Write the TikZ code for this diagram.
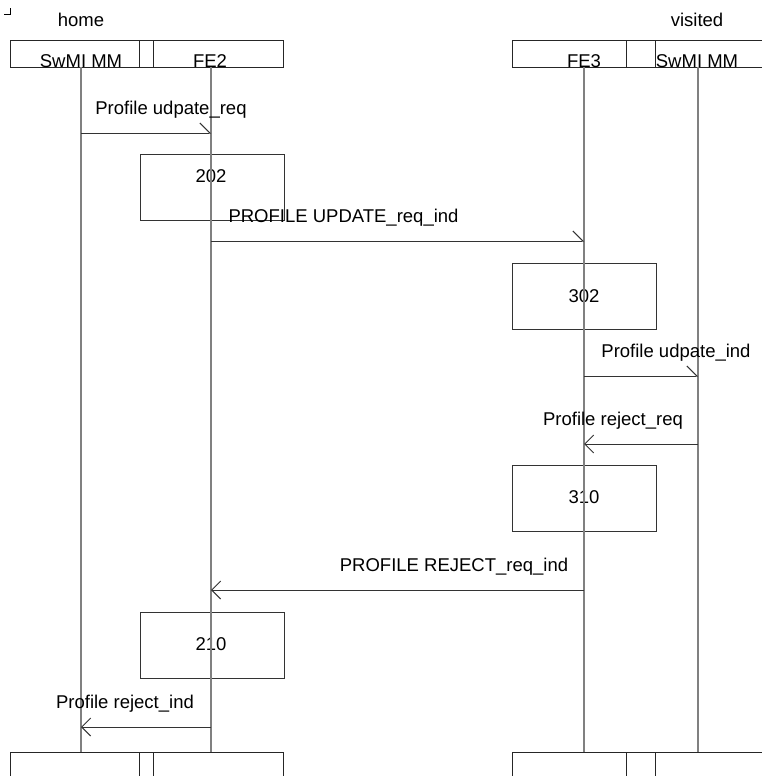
\documentclass[tikz,border=0pt]{standalone}
\usepackage{fontspec}
\setmainfont{Liberation Sans}
\usetikzlibrary{arrows.meta}
\begin{document}
\begin{tikzpicture}[x=1pt,y=1pt,
  txt/.style={font=\fontsize{18.5}{22}\selectfont, inner sep=0pt, anchor=base},
  hdr/.style={draw=black!85, line width=1pt, inner sep=0pt, anchor=north west, minimum height=27pt},
  foot/.style={draw=black!85, line width=1pt, inner sep=0pt, anchor=north west, minimum height=40pt},
  life/.style={draw=black!50, line width=1.3pt},
  msgr/.style={draw=black!80, line width=1pt, -{Straight Barb[left,length=10pt,width=20pt]}},
  msgl/.style={draw=black!80, line width=1pt, -{Straight Barb[length=9pt,width=18pt]}},
  actbox/.style={draw=black!80, line width=1pt, minimum width=144pt, minimum height=66pt, inner sep=0pt, anchor=north west},
]
\useasboundingbox (0,0) rectangle (762,-776);
\clip (0,0) rectangle (762,-776);

% corner mark
\draw[line width=0.8pt] (4,-14) -- (10,-14) -- (10,-8);

% group labels
\node[txt] (home) at (81,-27) {home};
\node[txt] (visited) at (697,-27) {visited};

% header boxes
\node[hdr, minimum width=129pt] (hA) at (10,-40) {};
\node[hdr, minimum width=14pt] (hAB) at (139,-40) {};
\node[hdr, minimum width=130pt] (hB) at (153,-40) {};
\node[hdr, minimum width=114pt] (hC) at (512,-40) {};
\node[hdr, minimum width=29pt] (hCD) at (626,-40) {};
\node[hdr, minimum width=130pt] (hD) at (655,-40) {};

\node[txt] (tA) at (81,-67.5) {SwMI MM};
\node[txt] (tB) at (210,-67.5) {FE2};
\node[txt] (tC) at (584,-67.5) {FE3};
\node[txt] (tD) at (697,-67.5) {SwMI MM};

% footer boxes
\node[foot, minimum width=129pt] (fA) at (10,-752) {};
\node[foot, minimum width=14pt] (fAB) at (139,-752) {};
\node[foot, minimum width=130pt] (fB) at (153,-752) {};
\node[foot, minimum width=114pt] (fC) at (512,-752) {};
\node[foot, minimum width=29pt] (fCD) at (626,-752) {};
\node[foot, minimum width=130pt] (fD) at (655,-752) {};

% lifeline end points
\coordinate (a0) at (81,-67);  \coordinate (a1) at (81,-752);
\coordinate (b0) at (211,-67); \coordinate (b1) at (211,-752);
\coordinate (c0) at (584,-67); \coordinate (c1) at (584,-752);
\coordinate (d0) at (698,-67); \coordinate (d1) at (698,-752);

% action boxes
\node[actbox] (x202) at (140,-154) {};
\node[actbox] (x302) at (512,-263) {};
\node[actbox] (x310) at (512,-465) {};
\node[actbox] (x210) at (140,-612) {};
\node[txt] (n202) at (211,-182) {202};
\node[txt] (n302) at (584,-302) {302};
\node[txt] (n310) at (584,-503) {310};
\node[txt] (n210) at (211,-650) {210};

% lifelines
\draw[life] (a0) -- (a1);
\draw[life] (b0) -- (b1);
\draw[life] (c0) -- (c1);
\draw[life] (d0) -- (d1);

% message points
\coordinate (m1s) at (81,-133);  \coordinate (m1e) at (211,-133);
\coordinate (m2s) at (211,-241); \coordinate (m2e) at (584,-241);
\coordinate (m3s) at (584,-376); \coordinate (m3e) at (698,-376);
\coordinate (m4s) at (698,-444); \coordinate (m4e) at (584,-444);
\coordinate (m5s) at (584,-590); \coordinate (m5e) at (211,-590);
\coordinate (m6s) at (211,-727); \coordinate (m6e) at (81,-727);

\draw[msgr] (m1s) -- (m1e);
\draw[msgr] (m2s) -- (m2e);
\draw[msgr] (m3s) -- (m3e);
\draw[msgl] (m4s) -- (m4e);
\draw[msgl] (m5s) -- (m5e);
\draw[msgl] (m6s) -- (m6e);

\node[txt] (l1) at (171,-114) {Profile udpate\_req};
\node[txt] (l2) at (343.5,-222) {PROFILE UPDATE\_req\_ind};
\node[txt] (l3) at (676,-357) {Profile udpate\_ind};
\node[txt] (l4) at (613,-425) {Profile reject\_req};
\node[txt] (l5) at (454,-571) {PROFILE REJECT\_req\_ind};
\node[txt] (l6) at (125,-708) {Profile reject\_ind};
\end{tikzpicture}
\end{document}
